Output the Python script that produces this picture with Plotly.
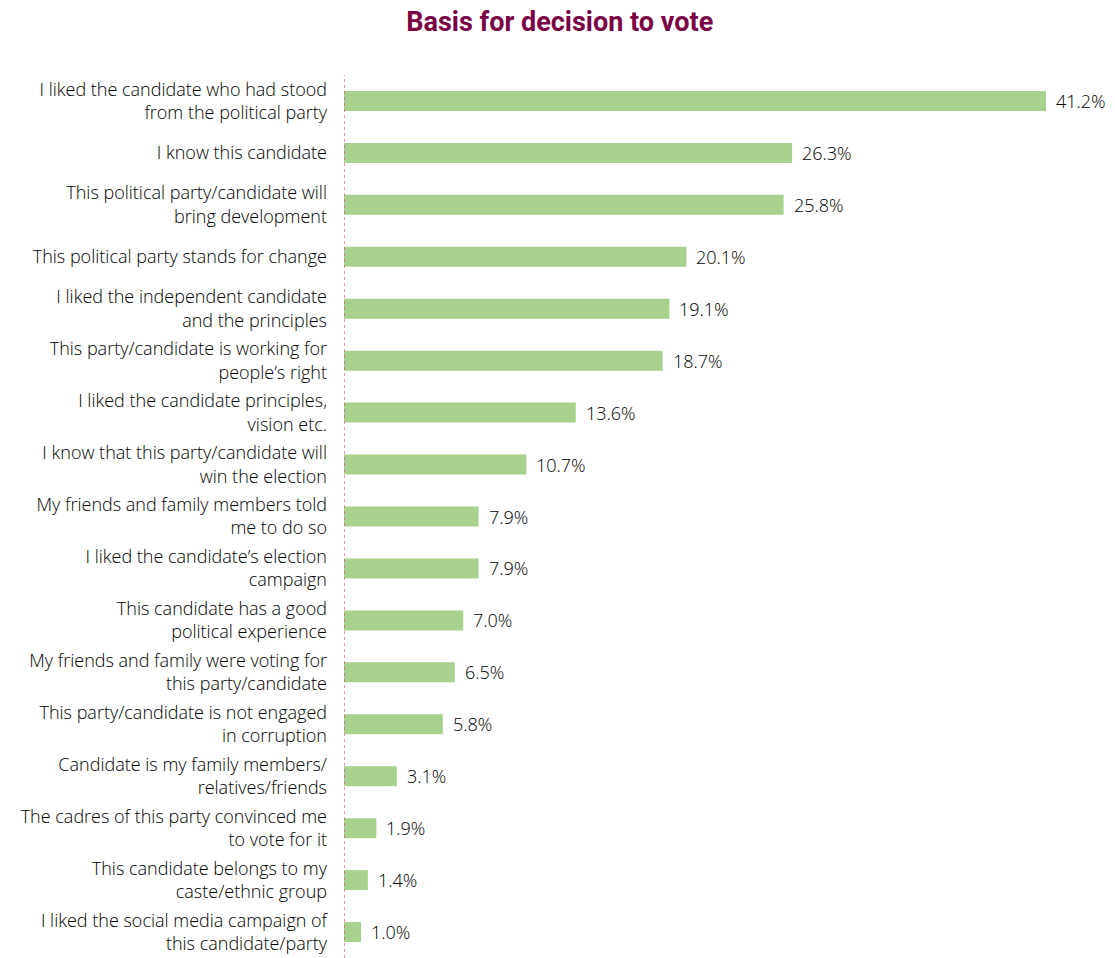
import plotly.graph_objects as go

categories = [
    "I liked the candidate who had stood<br>from the political party",
    "I know this candidate",
    "This political party/candidate will<br>bring development",
    "This political party stands for change",
    "I liked the independent candidate<br>and the principles",
    "This party/candidate is working for<br>people’s right",
    "I liked the candidate principles,<br>vision etc.",
    "I know that this party/candidate will<br>win the election",
    "My friends and family members told<br>me to do so",
    "I liked the candidate’s election<br>campaign",
    "This candidate has a good<br>political experience",
    "My friends and family were voting for<br>this party/candidate",
    "This party/candidate is not engaged<br>in corruption",
    "Candidate is my family members/<br>relatives/friends",
    "The cadres of this party convinced me<br>to vote for it",
    "This candidate belongs to my<br>caste/ethnic group",
    "I liked the social media campaign of<br>this candidate/party",
]
values = [41.2, 26.3, 25.8, 20.1, 19.1, 18.7, 13.6, 10.7, 7.9, 7.9, 7.0, 6.5, 5.8, 3.1, 1.9, 1.4, 1.0]
value_labels = [f"{v:.1f}%" for v in values]

bar_color = "#a9d18e"
text_color = "#000000"
title_color = "#7a0045"
label_font = dict(family="Open Sans", size=18, color=text_color, weight=300)

fig = go.Figure(
    go.Bar(
        x=values,
        y=categories,
        orientation="h",
        marker=dict(color=bar_color, line=dict(width=0)),
        hoverinfo="skip",
    )
)

for cat, v, lab in zip(categories, values, value_labels):
    fig.add_annotation(
        x=v, y=cat, text=lab, showarrow=False,
        xanchor="left", yanchor="middle", xshift=8,
        font=label_font,
    )

# dotted baseline at zero
fig.add_shape(
    type="line", xref="x", yref="paper", x0=0, x1=0, y0=0, y1=1,
    line=dict(color="#c0396b", width=1, dash="dot"),
)

fig.update_layout(
    width=1115,
    height=958,
    margin=dict(l=344, r=0, t=75, b=0),
    paper_bgcolor="white",
    plot_bgcolor="white",
    bargap=0.615,
    showlegend=False,
    title=dict(
        text="<b>Basis for decision to vote</b>",
        x=0.502, xref="container", xanchor="center",
        y=0.977, yanchor="middle",
        font=dict(family="Roboto", size=27, color=title_color),
    ),
    xaxis=dict(
        range=[0, 45.25], showgrid=False, zeroline=False,
        showticklabels=False, showline=False, fixedrange=True,
    ),
    yaxis=dict(
        autorange="reversed", showgrid=False, zeroline=False, showline=False,
        ticks="", ticklabelstandoff=16,
        tickfont=label_font,
    ),
)

fig.write_html("out.html")
